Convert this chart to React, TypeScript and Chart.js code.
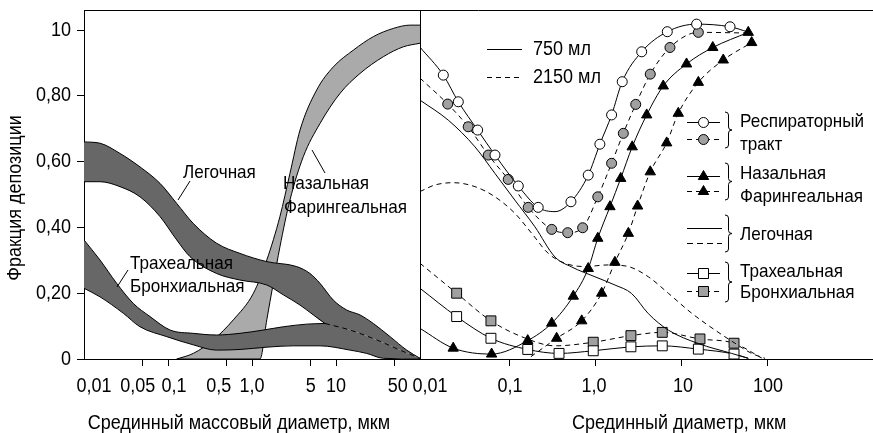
import React, { useEffect, useRef } from 'react';
import { Chart, registerables } from 'chart.js';

Chart.register(...registerables);

const FONT = "'Liberation Sans', Arial, sans-serif";
const SX = 0.9; // horizontal squeeze imitating the condensed face of the original
const DARK = '#676767';
const LIGHT = '#aaaaaa';
const MARK_GRAY = '#a0a0a0';
const DASH = [5, 4];

// ---------- axes ----------
const Y_TICKS = [0, 0.2, 0.4, 0.6, 0.8, 1.0];
const Y_LABELS = ['0', '0,20', '0,40', '0,60', '0,80', '10'];
const LEFT_X_TICKS = [0.01, 0.05, 0.1, 0.5, 1, 5, 10, 50];
const LEFT_X_LABELS = ['0,01', '0,05', '0,1', '0,5', '1,0', '5', '10', '50'];
const RIGHT_X_TICKS = [0.01, 0.1, 1, 10, 100];
const RIGHT_X_LABELS = ['0,01', '0,1', '1,0', '10', '100'];

const Y_TITLE = 'Фракция депозиции';
const X_TITLE_LEFT = 'Срединный массовый диаметр, мкм';
const X_TITLE_RIGHT = 'Срединный диаметр, мкм';

// ---------- left panel: bands ----------
const MERGE_X = 7.39;

const PULM_UPPER_X = [0.01, 0.0155, 0.0268, 0.0464, 0.0803, 0.127, 0.2, 0.379, 0.72, 1.5, 3.4, 4.9, 6.45, 9.29, 13.4, 19.3, 27.8, 44, 69.5, 100];
const PULM_UPPER_Y = [0.66, 0.656, 0.625, 0.584, 0.534, 0.473, 0.412, 0.352, 0.321, 0.296, 0.281, 0.26, 0.23, 0.179, 0.149, 0.134, 0.108, 0.068, 0.027, 0.002];
const PULM_LOWER_X = [0.01, 0.0155, 0.0268, 0.0464, 0.0803, 0.127, 0.183, 0.379, 0.72, 1.5, 2.36, 3.73, 5.37, 7.39, 14.7, 30.5, 57.8, 100];
const PULM_LOWER_Y = [0.539, 0.539, 0.524, 0.493, 0.433, 0.362, 0.311, 0.26, 0.24, 0.225, 0.195, 0.164, 0.134, 0.108, 0.088, 0.058, 0.027, 0.002];

const TRACH_UPPER_X = [0.01, 0.0155, 0.0245, 0.0386, 0.0611, 0.106, 0.2, 0.379, 0.72, 1.36, 2.36, 4.48, 7.39, 14.7, 30.5, 57.8, 100];
const TRACH_UPPER_Y = [0.362, 0.301, 0.23, 0.169, 0.129, 0.088, 0.078, 0.073, 0.078, 0.088, 0.098, 0.106, 0.108, 0.088, 0.058, 0.027, 0.002];
const TRACH_LOWER_X = [0.01, 0.0155, 0.0294, 0.0464, 0.0966, 0.2, 0.379, 0.72, 1.5, 3.1, 6.45, 14.7, 23.2, 36.6, 100];
const TRACH_LOWER_Y = [0.215, 0.189, 0.139, 0.098, 0.068, 0.043, 0.027, 0.029, 0.036, 0.04, 0.04, 0.027, 0.017, 0.002, 0];

const NASAL_UPPER_X = [0.127, 0.2, 0.346, 0.599, 1.04, 1.5, 2.15, 2.83, 3.73, 5.89, 9.29, 16.1, 27.8, 48.1, 76, 100];
const NASAL_UPPER_Y = [0, 0.017, 0.058, 0.119, 0.2, 0.301, 0.433, 0.564, 0.696, 0.818, 0.888, 0.939, 0.98, 1.005, 1.015, 1.015];
const NASAL_LOWER_X = [0.127, 1.245, 1.5, 1.79, 2.15, 2.83, 4.08, 6.45, 11.2, 19.3, 36.6, 63.2, 100];
const NASAL_LOWER_Y = [0, 0, 0.119, 0.23, 0.341, 0.483, 0.615, 0.716, 0.808, 0.868, 0.919, 0.949, 0.96];

// ---------- right panel: measured curves ----------
const RESP750_X = [0.009, 0.0168, 0.0251, 0.0421, 0.067, 0.125, 0.213, 0.334, 0.512, 0.813, 1.11, 1.52, 2.02, 3.4, 6.75, 14.8, 36.2, 59];
const RESP750_Y = [0.948, 0.863, 0.782, 0.696, 0.62, 0.526, 0.461, 0.448, 0.478, 0.559, 0.653, 0.742, 0.843, 0.934, 0.995, 1.018, 1.01, 0.994];
const RESP750_MARK = [false, true, true, true, true, true, true, false, true, true, true, true, true, true, true, true, true, false];

const RESP2150_X = [0.009, 0.0189, 0.0327, 0.056, 0.0955, 0.163, 0.306, 0.469, 0.7, 1.05, 1.52, 2.08, 2.9, 4.28, 7.25, 15.5, 59];
const RESP2150_Y = [0.854, 0.775, 0.706, 0.62, 0.546, 0.461, 0.394, 0.384, 0.399, 0.493, 0.595, 0.686, 0.774, 0.866, 0.947, 0.993, 0.991];
const RESP2150_MARK = [false, true, true, true, true, true, true, true, true, true, true, true, true, true, true, true, false];

const NASAL750_X = [0.009, 0.0219, 0.0612, 0.161, 0.306, 0.545, 0.813, 1.05, 1.455, 1.94, 2.64, 3.89, 6.06, 11.3, 22.8, 59];
const NASAL750_Y = [0.093, 0.033, 0.015, 0.056, 0.109, 0.191, 0.275, 0.367, 0.463, 0.549, 0.645, 0.742, 0.83, 0.897, 0.947, 0.993];
const NASAL750_MARK = [false, true, true, true, true, true, true, true, true, true, true, true, true, true, true, true];

const NASAL2150_X = [0.175, 0.349, 0.683, 1.165, 1.66, 2.38, 3.05, 4.28, 6.64, 9.06, 15.5, 30.2, 64.6];
const NASAL2150_Y = [0.007, 0.063, 0.116, 0.2, 0.294, 0.382, 0.465, 0.569, 0.657, 0.747, 0.841, 0.909, 0.962];
const NASAL2150_MARK = [false, true, true, true, true, true, true, true, true, true, true, true, true];

const PULM750_X = [0.009, 0.0192, 0.0392, 0.067, 0.114, 0.195, 0.334, 0.52, 0.973, 1.66, 2.6, 4.06, 6.93, 15.5, 37.8, 59];
const PULM750_Y = [0.787, 0.726, 0.645, 0.564, 0.483, 0.402, 0.31, 0.28, 0.25, 0.225, 0.199, 0.138, 0.088, 0.047, 0.017, 0.002];

const PULM2150_X = [0.009, 0.0134, 0.0219, 0.0392, 0.067, 0.114, 0.179, 0.279, 0.436, 0.745, 1.39, 2.38, 4.06, 6.93, 13, 24.2, 41.3, 64.6, 92.3];
const PULM2150_Y = [0.509, 0.529, 0.536, 0.524, 0.493, 0.443, 0.382, 0.321, 0.291, 0.281, 0.286, 0.281, 0.25, 0.2, 0.139, 0.088, 0.048, 0.017, 0.002];

const TRACH750_X = [0.009, 0.024, 0.0601, 0.161, 0.372, 0.93, 2.55, 5.9, 15.5, 40.3, 59];
const TRACH750_Y = [0.215, 0.129, 0.063, 0.029, 0.017, 0.025, 0.037, 0.04, 0.03, 0.015, 0.002];
const TRACH750_MARK = [false, true, true, true, true, true, true, true, true, true, false];

const TRACH2150_X = [0.009, 0.024, 0.0601, 0.149, 0.334, 0.93, 2.55, 5.9, 16.2, 40.3, 84.5];
const TRACH2150_Y = [0.291, 0.2, 0.116, 0.064, 0.04, 0.051, 0.071, 0.081, 0.061, 0.048, 0.003];
const TRACH2150_MARK = [false, true, true, false, false, true, true, true, true, true, false];

// ---------- legend texts ----------
const VOLUME_LABELS = ['750 мл', '2150 мл'];
const GROUP_LABELS = [
  ['Респираторный', 'тракт'],
  ['Назальная', 'Фарингеальная'],
  ['Легочная'],
  ['Трахеальная', 'Бронхиальная'],
];
const BAND_LABELS = {
  pulm: ['Легочная'],
  nasal: ['Назальная', 'Фарингеальная'],
  trach: ['Трахеальная', 'Бронхиальная'],
};

// label nudges (px) reproducing the original's hand-set tick-label placement
const LEFT_LABEL_NUDGE = [10, -5, 6, -8, 0, 0, 0, 3];
const RIGHT_LABEL_NUDGE = [6, 0, -2, 1, 0];

const pts = (xs: number[], ys: number[]) => xs.map((x, i) => ({ x, y: ys[i] }));
const ptsUpTo = (xs: number[], ys: number[], lim: number) => pts(xs, ys).filter((p) => p.x <= lim + 1e-9);
const ptsFrom = (xs: number[], ys: number[], lim: number) => pts(xs, ys).filter((p) => p.x >= lim - 1e-9);
const radii = (marks: boolean[], r: number) => marks.map((m) => (m ? r : 0));

function txt(ctx: CanvasRenderingContext2D, s: string, x: number, y: number, size: number, align: CanvasTextAlign, rot = 0) {
  ctx.save();
  ctx.translate(x, y);
  if (rot) ctx.rotate(rot);
  ctx.scale(SX, 1);
  ctx.font = `${size}px ${FONT}`;
  ctx.textAlign = align;
  ctx.textBaseline = 'middle';
  ctx.fillStyle = '#000';
  ctx.fillText(s, 0, 0);
  ctx.restore();
}

function drawMarker(ctx: CanvasRenderingContext2D, type: string, x: number, y: number, fill: string) {
  ctx.save();
  ctx.setLineDash([]);
  ctx.fillStyle = fill;
  ctx.strokeStyle = '#000';
  ctx.lineWidth = 1;
  ctx.beginPath();
  if (type === 'circle') {
    ctx.arc(x, y, 5, 0, Math.PI * 2);
  } else if (type === 'triangle') {
    ctx.moveTo(x, y - 6);
    ctx.lineTo(x + 5.2, y + 3);
    ctx.lineTo(x - 5.2, y + 3);
    ctx.closePath();
  } else {
    ctx.rect(x - 5, y - 5, 10, 10);
  }
  ctx.fill();
  ctx.stroke();
  ctx.restore();
}

function drawBrace(ctx: CanvasRenderingContext2D, x: number, y1: number, y2: number) {
  const mid = (y1 + y2) / 2;
  const s = x + 3.5;
  ctx.beginPath();
  ctx.moveTo(x, y1);
  ctx.quadraticCurveTo(s, y1, s, y1 + 3);
  ctx.lineTo(s, mid - 3);
  ctx.quadraticCurveTo(s, mid, x + 7, mid);
  ctx.quadraticCurveTo(s, mid, s, mid + 3);
  ctx.lineTo(s, y2 - 3);
  ctx.quadraticCurveTo(s, y2, x, y2);
  ctx.stroke();
}

function seg(ctx: CanvasRenderingContext2D, x1: number, y1: number, x2: number, y2: number, dash: number[]) {
  ctx.save();
  ctx.setLineDash(dash);
  ctx.beginPath();
  ctx.moveTo(x1, y1);
  ctx.lineTo(x2, y2);
  ctx.stroke();
  ctx.restore();
}

const decorPlugin = {
  id: 'decor',
  afterDraw(chart: any) {
    const ctx: CanvasRenderingContext2D = chart.ctx;
    const { top, left, right, bottom } = chart.chartArea;
    const xL = chart.scales.xL;
    const xR = chart.scales.xR;
    const y = chart.scales.y;
    ctx.save();
    ctx.strokeStyle = '#000';
    ctx.lineWidth = 1;
    ctx.setLineDash([]);
    // frame: top line and panel divider
    ctx.beginPath();
    ctx.moveTo(left, Math.round(top) + 0.5);
    ctx.lineTo(right, Math.round(top) + 0.5);
    const dx = Math.round(xR.left) + 0.5;
    ctx.moveTo(dx, top);
    ctx.lineTo(dx, bottom);
    ctx.stroke();

    // tick labels
    Y_TICKS.forEach((v, i) => txt(ctx, Y_LABELS[i], left - 13, y.getPixelForValue(v), 20, 'right'));
    LEFT_X_TICKS.forEach((v, i) => txt(ctx, LEFT_X_LABELS[i], xL.getPixelForValue(v) + LEFT_LABEL_NUDGE[i], bottom + 27, 20, 'center'));
    RIGHT_X_TICKS.forEach((v, i) => txt(ctx, RIGHT_X_LABELS[i], xR.getPixelForValue(v) + RIGHT_LABEL_NUDGE[i], bottom + 27, 20, 'center'));

    // axis titles
    txt(ctx, X_TITLE_LEFT, xL.left + (xL.right - xL.left) * 0.461, 423, 20, 'center');
    txt(ctx, X_TITLE_RIGHT, xR.left + (xR.right - xR.left) * 0.572, 423, 20, 'center');
    txt(ctx, Y_TITLE, 15, 198, 20, 'center', -Math.PI / 2);

    // band annotations (left panel)
    txt(ctx, BAND_LABELS.pulm[0], 183, 173, 19, 'left');
    seg(ctx, 190, 181, 178, 200, []);
    txt(ctx, BAND_LABELS.nasal[0], 283, 184, 19, 'left');
    txt(ctx, BAND_LABELS.nasal[1], 284, 208, 19, 'left');
    seg(ctx, 325, 173, 312, 150, []);
    txt(ctx, BAND_LABELS.trach[0], 130, 264, 19, 'left');
    txt(ctx, BAND_LABELS.trach[1], 130, 287, 19, 'left');
    seg(ctx, 128, 270, 117, 287, []);

    // volume legend
    seg(ctx, 487, 49.5, 522, 49.5, []);
    txt(ctx, VOLUME_LABELS[0], 533, 49, 20, 'left');
    seg(ctx, 487, 77.5, 522, 77.5, DASH);
    txt(ctx, VOLUME_LABELS[1], 533, 77, 20, 'left');

    // grouped legend
    const groups = [
      { marker: 'circle', ys: [122, 139], fills: ['#fff', MARK_GRAY], brace: [112, 148], tys: [122, 145] },
      { marker: 'triangle', ys: [176, 191], fills: ['#000', '#000'], brace: [163, 200], tys: [174, 197] },
      { marker: '', ys: [228, 243], fills: ['', ''], brace: [215, 252], tys: [235] },
      { marker: 'rect', ys: [273, 291], fills: ['#fff', MARK_GRAY], brace: [262, 302], tys: [272, 293] },
    ];
    groups.forEach((g, gi) => {
      const x2 = g.marker ? 720 : 722;
      seg(ctx, 687, g.ys[0] + 0.5, x2, g.ys[0] + 0.5, []);
      seg(ctx, 687, g.ys[1] + 0.5, x2, g.ys[1] + 0.5, g.marker ? DASH : [6, 4]);
      if (g.marker) {
        drawMarker(ctx, g.marker, 703.5, g.ys[0] + 0.5, g.fills[0]);
        drawMarker(ctx, g.marker, 703.5, g.ys[1] + 0.5, g.fills[1]);
      }
      drawBrace(ctx, 725, g.brace[0], g.brace[1]);
      GROUP_LABELS[gi].forEach((t, ti) => txt(ctx, t, 740, g.tys[ti], 19, 'left'));
    });
    ctx.restore();
  },
};

export default function App() {
  const ref = useRef<HTMLCanvasElement | null>(null);

  useEffect(() => {
    if (!ref.current) return;
    const leftBase = {
      xAxisID: 'xL',
      yAxisID: 'y',
      borderColor: '#000',
      borderWidth: 1,
      pointRadius: 0,
      fill: false,
      cubicInterpolationMode: 'monotone' as const,
    };
    const rightBase = {
      xAxisID: 'xR',
      yAxisID: 'y',
      borderColor: '#000',
      borderWidth: 1,
      fill: false,
      cubicInterpolationMode: 'monotone' as const,
      pointBorderColor: '#000',
      pointBorderWidth: 1,
    };
    const hiddenTicks = { color: 'rgba(0,0,0,0)', autoSkip: false, maxRotation: 0, minRotation: 0, font: { family: FONT, size: 18 } };
    const xGrid = {
      display: true,
      drawOnChartArea: false,
      drawTicks: true,
      tickLength: 7,
      tickColor: (c: any) => (c.index === 0 ? 'rgba(0,0,0,0)' : '#000'),
    };
    const chart = new Chart(ref.current, {
      type: 'line',
      data: {
        datasets: [
          // tracheal-bronchial band
          { ...leftBase, label: 'Трахеальная верх', data: ptsUpTo(TRACH_UPPER_X, TRACH_UPPER_Y, MERGE_X) },
          { ...leftBase, label: 'Трахеальная верх (скрыт.)', data: ptsFrom(TRACH_UPPER_X, TRACH_UPPER_Y, MERGE_X), borderDash: DASH },
          { ...leftBase, label: 'Трахеальная граница', data: pts(TRACH_UPPER_X, TRACH_UPPER_Y), borderWidth: 0 },
          { ...leftBase, label: 'Трахеальная низ', data: pts(TRACH_LOWER_X, TRACH_LOWER_Y), fill: '-1', backgroundColor: DARK },
          // pulmonary band
          { ...leftBase, label: 'Легочная низ', data: ptsUpTo(PULM_LOWER_X, PULM_LOWER_Y, MERGE_X) },
          { ...leftBase, label: 'Легочная верх', data: pts(PULM_UPPER_X, PULM_UPPER_Y) },
          { ...leftBase, label: 'Легочная граница', data: pts(PULM_LOWER_X, PULM_LOWER_Y), borderWidth: 0, fill: '-1', backgroundColor: DARK },
          // nasal-pharyngeal band
          { ...leftBase, label: 'Назальная верх', data: pts(NASAL_UPPER_X, NASAL_UPPER_Y) },
          { ...leftBase, label: 'Назальная низ', data: pts(NASAL_LOWER_X, NASAL_LOWER_Y), fill: '-1', backgroundColor: LIGHT },

          { ...rightBase, label: 'Респ. 750', data: pts(RESP750_X, RESP750_Y), pointStyle: 'circle', pointRadius: radii(RESP750_MARK, 5), pointBackgroundColor: '#fff' },
          { ...rightBase, label: 'Респ. 2150', data: pts(RESP2150_X, RESP2150_Y), borderDash: DASH, pointStyle: 'circle', pointRadius: radii(RESP2150_MARK, 5), pointBackgroundColor: MARK_GRAY },
          { ...rightBase, label: 'Наз. 750', data: pts(NASAL750_X, NASAL750_Y), pointStyle: 'triangle', pointRadius: radii(NASAL750_MARK, 6), pointBackgroundColor: '#000' },
          { ...rightBase, label: 'Наз. 2150', data: pts(NASAL2150_X, NASAL2150_Y), borderDash: DASH, pointStyle: 'triangle', pointRadius: radii(NASAL2150_MARK, 6), pointBackgroundColor: '#000' },
          { ...rightBase, label: 'Лег. 750', data: pts(PULM750_X, PULM750_Y), pointRadius: 0 },
          { ...rightBase, label: 'Лег. 2150', data: pts(PULM2150_X, PULM2150_Y), borderDash: DASH, pointRadius: 0 },
          { ...rightBase, label: 'Трах. 750', data: pts(TRACH750_X, TRACH750_Y), pointStyle: 'rect', pointRadius: radii(TRACH750_MARK, 7), pointBackgroundColor: '#fff' },
          { ...rightBase, label: 'Трах. 2150', data: pts(TRACH2150_X, TRACH2150_Y), borderDash: DASH, pointStyle: 'rect', pointRadius: radii(TRACH2150_MARK, 7), pointBackgroundColor: MARK_GRAY },
        ] as any,
      },
      options: {
        animation: false,
        responsive: false,
        events: [],
        layout: { autoPadding: false, padding: { top: 10, left: 0, right: 0, bottom: 0 } },
        plugins: {
          legend: { display: false },
          tooltip: { enabled: false },
          filler: { propagate: false },
        },
        scales: {
          y: {
            type: 'linear',
            position: 'left',
            min: 0,
            max: 1.061,
            afterBuildTicks: (s: any) => {
              s.ticks = Y_TICKS.map((v) => ({ value: v }));
            },
            afterFit: (s: any) => {
              s.width = 84;
              s.paddingTop = 0;
              s.paddingBottom = 0;
            },
            ticks: { ...hiddenTicks, callback: (_v: any, i: number) => Y_LABELS[i] },
            grid: { display: true, drawOnChartArea: false, drawTicks: true, tickLength: 7, tickColor: '#000' },
            border: { display: true, color: '#000', width: 1 },
          },
          xL: {
            type: 'logarithmic',
            position: 'bottom',
            stack: 'x',
            stackWeight: 336,
            min: 0.01,
            max: 100,
            afterBuildTicks: (s: any) => {
              s.ticks = LEFT_X_TICKS.map((v) => ({ value: v }));
            },
            afterFit: (s: any) => {
              s.height = 74;
              s.paddingLeft = 0;
              s.paddingRight = 0;
            },
            ticks: { ...hiddenTicks, callback: (_v: any, i: number) => LEFT_X_LABELS[i] },
            grid: xGrid,
            border: { display: true, color: '#000', width: 1 },
          },
          xR: {
            type: 'logarithmic',
            position: 'bottom',
            stack: 'x',
            stackWeight: 453,
            min: 0.009,
            max: 1663,
            afterBuildTicks: (s: any) => {
              s.ticks = RIGHT_X_TICKS.map((v) => ({ value: v }));
            },
            afterFit: (s: any) => {
              s.height = 74;
              s.paddingLeft = 0;
              s.paddingRight = 0;
            },
            ticks: { ...hiddenTicks, callback: (_v: any, i: number) => RIGHT_X_LABELS[i] },
            grid: xGrid,
            border: { display: true, color: '#000', width: 1 },
          },
        },
      } as any,
      plugins: [decorPlugin],
    });
    return () => chart.destroy();
  }, []);

  return (
    <div style={{ position: 'absolute', left: 0, top: 0, width: 873, height: 433, background: '#fff' }}>
      <canvas ref={ref} width={873} height={433} style={{ display: 'block' }} />
    </div>
  );
}
